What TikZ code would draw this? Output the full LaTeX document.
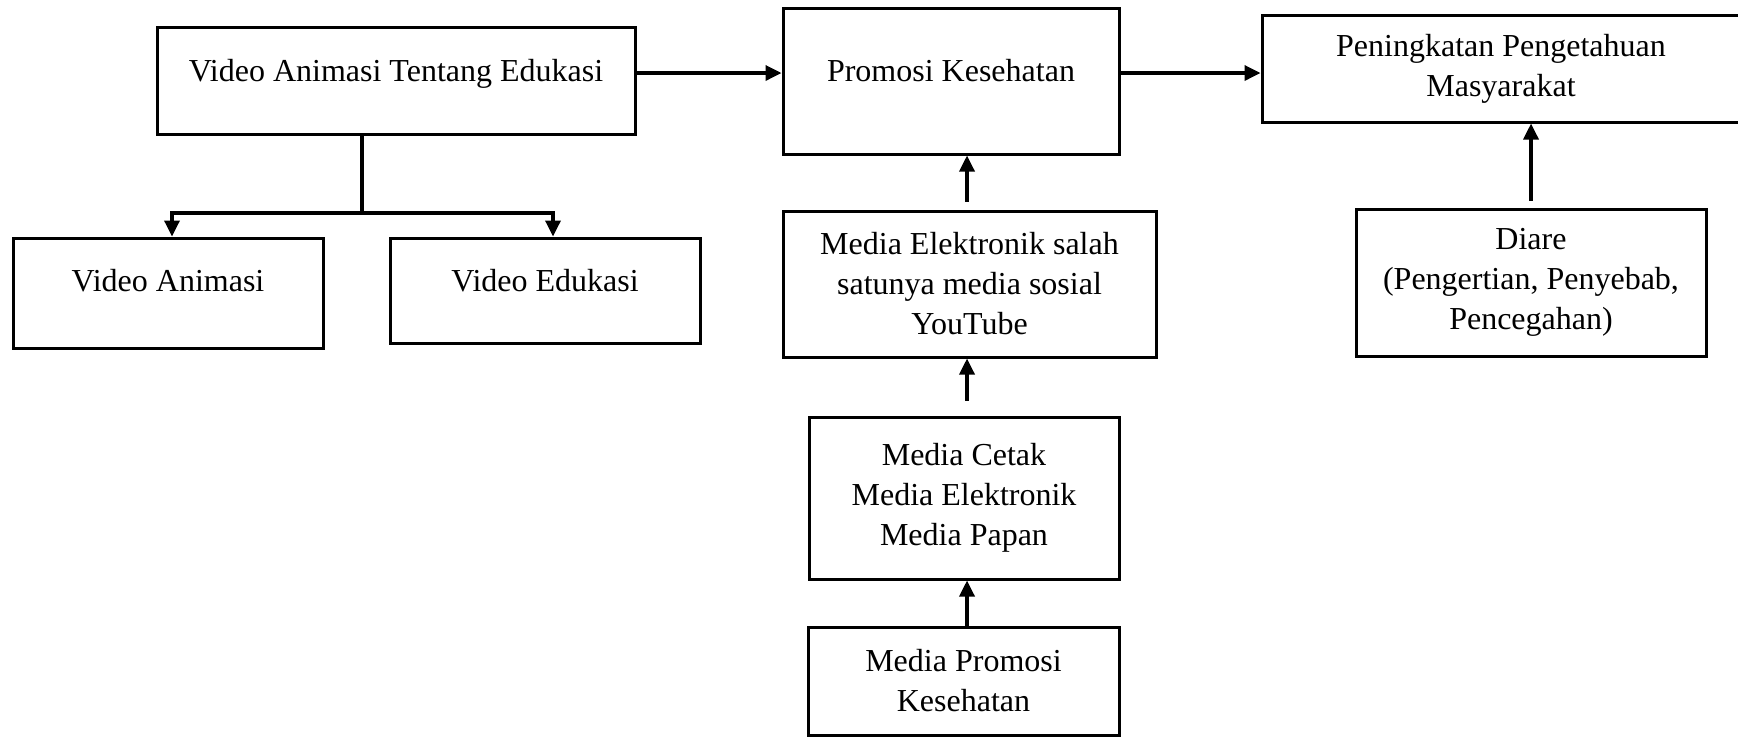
\documentclass[tikz,border=0pt]{standalone}
\usepackage{fontspec}
\setmainfont{Liberation Serif}
\usetikzlibrary{arrows.meta}

\tikzset{
  box/.style    = {draw, line width=1.5pt, align=center, inner sep=0pt,
                   font=\fontsize{16}{20}\selectfont},
  raised/.style = {text height=11pt, text depth=#1},
  link/.style   = {line width=1.7pt, -{Triangle[length=8pt,width=7.5pt]}},
}

\begin{document}
\begin{tikzpicture}[x=0.5pt, y=-0.5pt]
    \useasboundingbox (0,0) rectangle (1738,736);
    \coordinate (level) at (0,73);
    \coordinate (spine) at (967,0);
    \coordinate (fork)  at (362,213);
    % top row
    \node[box, raised=10pt, minimum width=239pt, minimum height=53.5pt] (vate)
        at (396,80.5) {Video Animasi Tentang Edukasi};
    \node[box, raised=11pt, minimum width=168pt, minimum height=73pt] (promkes)
        at (951,81) {Promosi Kesehatan};
    \node[box, minimum width=239pt, minimum height=53.5pt] (pengetahuan)
        at (1501,68.5) {Peningkatan Pengetahuan\\Masyarakat};
    % second row
    \node[box, raised=13pt, minimum width=155pt, minimum height=55pt] (vanim)
        at (168,293) {Video Animasi};
    \node[box, raised=10pt, minimum width=155pt, minimum height=52.5pt] (vedu)
        at (545,290.5) {Video Edukasi};
    \node[box, minimum width=186.5pt, minimum height=73pt] (medel)
        at (969.5,284) {Media Elektronik salah\\satunya media sosial\\YouTube};
    \node[box, minimum width=175pt, minimum height=73.5pt] (diare)
        at (1531,282.5) {Diare\\(Pengertian, Penyebab,\\Pencegahan)};
    % lower column
    \node[box, minimum width=155pt, minimum height=81pt] (mcetak)
        at (964,498) {Media Cetak\\Media Elektronik\\Media Papan};
    \node[box, minimum width=155.5pt, minimum height=54pt] (mpromo)
        at (963.5,681) {Media Promosi\\Kesehatan};
    % connectors
    \draw[link] (vate.east |- level) -- (promkes.west |- level);
    \draw[link] (promkes.east |- level) -- (pengetahuan.west |- level);
    \draw[line width=1.7pt] (fork |- vate.south) -- (fork);
    \draw[link] (fork) -| ([xshift=2pt]vanim.north);
    \draw[link] (fork) -| ([xshift=4pt]vedu.north);
    \draw[link, shorten <=4pt] (spine |- medel.north) -- (spine |- promkes.south);
    \draw[link, shorten <=7.5pt] (spine |- mcetak.north) -- (spine |- medel.south);
    \draw[link] (spine |- mpromo.north) -- (spine |- mcetak.south);
    \draw[link, shorten <=3.5pt] (diare.north) -- (diare.north |- pengetahuan.south);
\end{tikzpicture}
\end{document}
